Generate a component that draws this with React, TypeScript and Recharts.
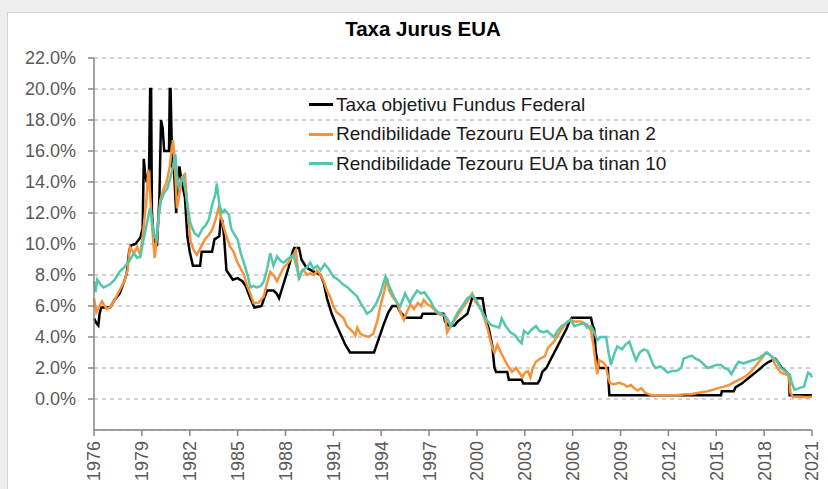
import React from 'react';
import { LineChart, Line, XAxis, YAxis, CartesianGrid, Legend } from 'recharts';

const FONT = '"Liberation Sans", Arial, sans-serif';

const chartTitle = 'Taxa Jurus EUA';
const seriesNames = [
  'Taxa objetivu Fundus Federal',
  'Rendibilidade Tezouru EUA ba tinan 2',
  'Rendibilidade Tezouru EUA ba tinan 10',
];
const seriesColors = ['#000000', '#f7913a', '#52c7ad'];

const yearTicks = [1976, 1979, 1982, 1985, 1988, 1991, 1994, 1997, 2000, 2003, 2006, 2009, 2012, 2015, 2018, 2021];
const rateTicks = [0, 2, 4, 6, 8, 10, 12, 14, 16, 18, 20, 22];

// Fed funds target
const fedYears = [
  1976.0, 1976.15, 1976.27, 1976.35, 1976.45, 1977.0, 1977.3, 1977.6, 1977.9, 1978.05,
  1978.2, 1978.3, 1978.6, 1978.9, 1979.05, 1979.12, 1979.2, 1979.3, 1979.45, 1979.52,
  1979.58, 1979.63, 1979.75, 1979.95, 1980.1, 1980.2, 1980.3, 1980.4, 1980.7, 1980.75,
  1980.8, 1980.9, 1981.0, 1981.15, 1981.25, 1981.35, 1981.5, 1981.7, 1981.85, 1982.0,
  1982.2, 1982.65, 1982.75, 1983.4, 1983.55, 1983.85, 1983.95, 1984.05, 1984.15, 1984.3,
  1984.5, 1984.7, 1985.0, 1985.3, 1985.5, 1985.8, 1986.05, 1986.5, 1986.7, 1986.85,
  1987.25, 1987.45, 1987.6, 1987.9, 1988.2, 1988.45, 1988.55, 1988.85, 1989.0, 1989.3,
  1989.7, 1990.2, 1990.4, 1990.6, 1990.9, 1991.1, 1991.45, 1991.75, 1992.05, 1993.55,
  1993.85, 1994.15, 1994.45, 1994.7, 1995.0, 1995.2, 1995.5, 1996.5, 1996.6, 1997.9,
  1998.0, 1998.2, 1998.6, 1998.8, 1999.1, 1999.4, 1999.55, 1999.7, 2000.35, 2000.5,
  2000.6, 2000.75, 2000.95, 2001.1, 2001.2, 2001.9, 2002.0, 2002.8, 2002.9, 2003.8,
  2003.95, 2004.1, 2004.35, 2004.6, 2004.85, 2005.1, 2005.35, 2005.6, 2005.8, 2005.95,
  2007.15, 2007.25, 2007.35, 2007.45, 2007.55, 2007.65, 2008.2, 2008.3, 2015.3, 2015.35,
  2016.1, 2016.2, 2016.6, 2016.9, 2017.2, 2017.5, 2017.8, 2018.0, 2018.3, 2018.7,
  2018.85, 2019.1, 2019.4, 2019.55, 2019.6, 2021.0,
];
const fedRates = [
  5.2, 4.9, 4.75, 5.5, 5.9, 5.9, 6.4, 6.8, 7.6, 8.1,
  9.5, 9.9, 10.0, 10.4, 11.0, 15.5, 14.6, 14.0, 14.8, 20.0,
  20.0, 12.0, 10.2, 10.0, 13.0, 18.0, 17.5, 16.0, 16.0, 20.0,
  20.0, 15.0, 15.0, 12.0, 14.0, 15.0, 14.0, 13.0, 10.5, 9.5,
  8.6, 8.6, 9.5, 9.5, 10.3, 10.5, 11.6, 11.5, 10.5, 8.3,
  8.0, 7.7, 7.8, 7.6, 7.3, 6.5, 5.9, 6.0, 6.6, 7.0,
  7.0, 6.8, 6.5, 7.5, 8.5, 9.5, 9.75, 9.75, 9.0, 8.5,
  8.25, 8.0, 7.5, 6.5, 5.5, 5.0, 4.2, 3.5, 3.0, 3.0,
  3.9, 4.8, 5.6, 6.0, 6.0, 5.6, 5.25, 5.25, 5.5, 5.5,
  5.0, 4.75, 4.75, 5.0, 5.25, 5.5, 6.0, 6.5, 6.5, 5.5,
  5.0, 4.5, 3.5, 2.0, 1.75, 1.75, 1.25, 1.25, 1.0, 1.0,
  1.25, 1.75, 2.0, 2.5, 3.0, 3.5, 4.0, 4.5, 5.0, 5.25,
  5.25, 4.75, 4.5, 3.0, 2.5, 2.0, 2.0, 0.25, 0.25, 0.5,
  0.5, 0.75, 1.0, 1.25, 1.5, 1.75, 2.0, 2.2, 2.4, 2.6,
  2.4, 2.0, 1.75, 1.6, 0.25, 0.25,
];

// 2-year Treasury yield
const twoYears = [
  1976.0, 1976.15, 1976.3, 1976.5, 1976.8, 1977.0, 1977.3, 1977.6, 1977.9, 1978.1,
  1978.25, 1978.5, 1978.7, 1978.9, 1979.05, 1979.15, 1979.3, 1979.4, 1979.5, 1979.65,
  1979.8, 1979.95, 1980.15, 1980.35, 1980.55, 1980.75, 1980.95, 1981.05, 1981.2, 1981.35,
  1981.5, 1981.7, 1981.85, 1982.05, 1982.25, 1982.45, 1982.7, 1982.95, 1983.2, 1983.4,
  1983.6, 1983.8, 1983.95, 1984.1, 1984.3, 1984.55, 1984.75, 1984.95, 1985.2, 1985.4,
  1985.6, 1985.8, 1986.0, 1986.3, 1986.63, 1986.85, 1987.05, 1987.25, 1987.47, 1987.7,
  1987.9, 1988.1, 1988.3, 1988.5, 1988.65, 1988.75, 1988.85, 1989.0, 1989.15, 1989.35,
  1989.55, 1989.8, 1989.98, 1990.2, 1990.4, 1990.6, 1990.8, 1991.0, 1991.2, 1991.45,
  1991.65, 1991.85, 1992.05, 1992.25, 1992.38, 1992.5, 1992.7, 1992.9, 1993.2, 1993.5,
  1993.75, 1993.95, 1994.2, 1994.37, 1994.5, 1994.7, 1995.0, 1995.2, 1995.42, 1995.6,
  1995.84, 1996.05, 1996.3, 1996.5, 1996.67, 1996.9, 1997.1, 1997.3, 1997.55, 1997.8,
  1998.0, 1998.13, 1998.3, 1998.55, 1998.8, 1999.05, 1999.4, 1999.7, 1999.9, 2000.3,
  2000.65, 2000.96, 2001.1, 2001.28, 2001.55, 2001.9, 2002.2, 2002.45, 2002.85, 2003.0,
  2003.2, 2003.35, 2003.5, 2003.7, 2003.95, 2004.25, 2004.45, 2004.83, 2005.25, 2005.67,
  2005.9, 2006.1, 2006.5, 2006.9, 2007.15, 2007.3, 2007.45, 2007.55, 2007.65, 2007.85,
  2008.05, 2008.25, 2008.35, 2008.6, 2008.9, 2009.2, 2009.4, 2009.65, 2009.85, 2010.06,
  2010.3, 2010.55, 2010.8, 2011.0, 2012.0, 2012.5, 2013.0, 2013.4, 2013.9, 2014.45,
  2014.8, 2015.1, 2015.5, 2015.8, 2016.15, 2016.55, 2016.9, 2017.2, 2017.6, 2017.9,
  2018.1, 2018.3, 2018.5, 2018.65, 2018.85, 2019.05, 2019.35, 2019.55, 2019.65, 2019.8,
  2020.3, 2020.7, 2021.0,
];
const twoRates = [
  6.5, 5.6, 5.9, 6.3, 5.8, 5.9, 6.4, 7.0, 7.6, 8.3,
  9.8, 9.4, 9.8, 9.3, 10.5, 11.5, 13.0, 14.8, 13.5, 11.0,
  9.1, 10.5, 12.8, 13.5, 14.0, 15.0, 16.7, 15.5, 12.3, 13.2,
  14.3, 14.5, 12.5, 10.2, 9.6, 9.3, 9.8, 10.3, 10.6, 10.9,
  11.5, 12.3, 11.8, 11.2, 10.5, 9.8, 9.5, 8.9, 8.4, 8.0,
  7.3, 6.8, 6.2, 6.2, 6.6, 7.5, 8.2, 8.0, 7.6, 8.1,
  8.5, 8.7, 9.0, 9.3, 9.6, 8.6, 7.7, 8.2, 8.3, 8.0,
  8.1, 8.0, 8.3, 8.0, 7.6, 7.0, 6.6, 6.0, 5.6, 5.4,
  5.2, 4.7, 4.5, 4.3, 4.1, 4.6, 4.2, 4.1, 4.0, 4.2,
  5.0, 6.0, 7.0, 7.8, 7.0, 6.6, 6.2, 5.6, 5.1, 5.6,
  6.1, 5.8, 6.2, 6.0, 6.4, 6.1, 6.0, 5.8, 5.5, 5.4,
  5.4, 4.3, 4.6, 5.0, 5.4, 5.8, 6.3, 6.8, 6.3, 5.7,
  4.6, 3.3, 3.0, 3.5, 2.9, 2.2, 1.75, 2.0, 1.4, 1.7,
  1.8, 1.4, 2.0, 2.4, 2.6, 2.75, 3.3, 3.7, 4.4, 5.0,
  5.1, 5.0, 5.0, 4.8, 4.4, 3.5, 2.2, 1.6, 2.5, 2.4,
  2.2, 1.3, 1.0, 0.95, 1.05, 0.95, 0.8, 0.9, 0.7, 0.55,
  0.7, 0.4, 0.3, 0.25, 0.25, 0.25, 0.3, 0.3, 0.4, 0.5,
  0.6, 0.7, 0.8, 0.9, 1.1, 1.3, 1.5, 1.8, 2.3, 2.7,
  3.0, 2.9, 2.7, 2.3, 2.0, 1.7, 1.6, 1.5, 0.4, 0.15,
  0.15, 0.12, 0.15,
];

// 10-year Treasury yield
const tenYears = [
  1976.0, 1976.1, 1976.2, 1976.4, 1976.6, 1976.8, 1977.0, 1977.3, 1977.6, 1977.9,
  1978.2, 1978.5, 1978.7, 1978.9, 1979.15, 1979.35, 1979.5, 1979.6, 1979.75, 1979.9,
  1980.05, 1980.2, 1980.4, 1980.6, 1980.77, 1980.95, 1981.1, 1981.2, 1981.3, 1981.45,
  1981.6, 1981.75, 1981.9, 1982.05, 1982.3, 1982.55, 1982.8, 1983.0, 1983.2, 1983.4,
  1983.6, 1983.7, 1983.85, 1984.0, 1984.2, 1984.45, 1984.6, 1984.8, 1985.0, 1985.2,
  1985.45, 1985.65, 1985.8, 1986.0, 1986.2, 1986.45, 1986.65, 1986.85, 1987.05, 1987.25,
  1987.47, 1987.7, 1987.9, 1988.1, 1988.5, 1988.75, 1988.85, 1989.05, 1989.35, 1989.55,
  1989.75, 1990.0, 1990.2, 1990.45, 1990.7, 1991.0, 1991.3, 1991.6, 1991.9, 1992.2,
  1992.5, 1992.75, 1992.9, 1993.1, 1993.4, 1993.7, 1993.95, 1994.15, 1994.27, 1994.45,
  1994.8, 1995.0, 1995.2, 1995.35, 1995.5, 1995.8, 1996.0, 1996.25, 1996.5, 1996.7,
  1996.9, 1997.1, 1997.3, 1997.55, 1997.75, 1997.95, 1998.15, 1998.35, 1998.55, 1998.8,
  1999.08, 1999.4, 1999.7, 1999.95, 2000.33, 2000.6, 2000.85, 2001.1, 2001.4, 2001.55,
  2001.8, 2002.1, 2002.4, 2002.6, 2002.8, 2002.95, 2003.2, 2003.45, 2003.7, 2003.9,
  2004.2, 2004.4, 2004.6, 2004.83, 2005.05, 2005.3, 2005.6, 2005.9, 2006.1, 2006.4,
  2006.7, 2006.9, 2007.15, 2007.35, 2007.55, 2007.75, 2008.1, 2008.25, 2008.4, 2008.6,
  2008.8, 2009.1, 2009.3, 2009.55, 2009.75, 2009.97, 2010.2, 2010.45, 2010.7, 2010.9,
  2011.05, 2011.2, 2011.5, 2011.75, 2011.95, 2012.2, 2012.5, 2012.8, 2012.95, 2013.2,
  2013.45, 2013.7, 2013.95, 2014.25, 2014.45, 2014.75, 2015.0, 2015.3, 2015.5, 2015.75,
  2015.95, 2016.2, 2016.4, 2016.7, 2017.0, 2017.3, 2017.6, 2017.9, 2018.2, 2018.4,
  2018.65, 2018.85, 2019.05, 2019.3, 2019.6, 2019.75, 2019.9, 2020.2, 2020.5, 2020.75,
  2020.9, 2021.0,
];
const tenRates = [
  7.6, 6.9, 7.7, 7.4, 7.2, 7.3, 7.4, 7.7, 8.2, 8.5,
  8.9, 9.4, 9.1, 9.2, 10.5, 11.5, 12.3, 11.8, 10.6, 10.3,
  11.8, 12.8, 13.3, 13.6, 14.2, 15.0, 15.8, 14.5, 13.7, 14.0,
  14.3, 13.3, 12.2, 11.3, 10.7, 10.5, 11.0, 11.2, 11.6, 12.5,
  13.2, 13.9, 12.6, 12.0, 12.2, 11.9, 11.0, 10.6, 10.3, 9.4,
  8.6, 7.9, 7.2, 7.3, 7.2, 7.3, 7.6, 8.4, 9.4, 8.6,
  9.2, 8.9, 8.8, 9.0, 9.3, 8.3, 7.8, 8.3, 8.5, 8.8,
  8.4, 8.6, 8.3, 8.7, 8.4, 7.9, 7.7, 7.4, 7.2, 6.9,
  6.6, 6.1, 5.9, 5.5, 5.7, 6.2, 6.8, 7.5, 7.9, 7.4,
  6.6, 6.2, 6.0, 6.4, 6.8, 6.2, 6.6, 7.0, 6.8, 6.9,
  6.6, 6.3, 5.9, 5.6, 5.5, 5.4, 5.2, 4.7, 5.1, 5.6,
  6.0, 6.5, 6.7, 6.4, 5.6, 5.1, 4.8, 4.7, 4.6, 5.2,
  4.7, 4.3, 4.1, 3.8, 3.6, 4.4, 4.2, 4.5, 4.7, 4.4,
  4.3, 4.4, 4.2, 4.0, 4.4, 4.7, 4.9, 5.1, 4.7, 4.8,
  4.9, 4.6, 4.7, 4.3, 3.8, 4.0, 4.0, 3.0, 2.2, 2.9,
  3.4, 3.2, 3.5, 3.7, 3.1, 2.5, 3.0, 3.2, 3.1, 2.6,
  2.2, 2.0, 2.1, 1.9, 1.7, 1.8, 1.8, 2.0, 2.6, 2.7,
  2.8, 2.6, 2.5, 2.2, 2.0, 2.1, 2.2, 2.2, 2.0, 1.9,
  1.6, 2.1, 2.4, 2.3, 2.4, 2.5, 2.6, 2.8, 3.0, 2.8,
  2.6, 2.4, 2.0, 1.8, 1.6, 1.0, 0.6, 0.7, 0.8, 1.7,
  1.6, 1.4,
];

const toPoints = (xs: number[], ys: number[]) => xs.map((year, i) => ({ year, value: ys[i] }));

const seriesData = [
  toPoints(fedYears, fedRates),
  toPoints(twoYears, twoRates),
  toPoints(tenYears, tenRates),
];

const YearTick = ({ x, y, payload }: any) => (
  <text
    x={x}
    y={y}
    dy="0.36em"
    transform={`rotate(-90, ${x}, ${y})`}
    textAnchor="end"
    fill="#595959"
    fontSize={18}
    fontFamily={FONT}
  >
    {payload.value}
  </text>
);

const LegendList = ({ payload }: any) => {
  const items = [...(payload || [])].sort(
    (a: any, b: any) => seriesNames.indexOf(a.value) - seriesNames.indexOf(b.value)
  );
  return (
    <ul style={{ listStyle: 'none', margin: 0, padding: 0, fontFamily: FONT }}>
      {items.map((entry: any) => (
        <li
          key={entry.value}
          style={{ display: 'flex', alignItems: 'center', height: 29.5, fontSize: 19, color: '#1a1a1a', whiteSpace: 'nowrap' }}
        >
          <span style={{ display: 'inline-block', width: 24, height: 3, background: entry.color, marginRight: 3 }} />
          {entry.value}
        </li>
      ))}
    </ul>
  );
};

export default function App() {
  return (
    <div style={{ position: 'absolute', left: 0, top: 0, width: 828, height: 489, background: '#efefef', overflow: 'hidden' }}>
      <div
        style={{
          position: 'absolute', left: 7, top: 12, width: 840, height: 500,
          background: '#ffffff', borderLeft: '1px solid #d4d4d4', borderTop: '1px solid #d4d4d4',
        }}
      />
      <div
        style={{
          position: 'absolute', left: 0, top: 17, width: 846, textAlign: 'center',
          fontFamily: FONT, fontWeight: 'bold', fontSize: 20.5, color: '#000', lineHeight: '24px',
        }}
      >
        {chartTitle}
      </div>
      <div style={{ position: 'absolute', left: 0, top: 0 }}>
        <LineChart width={828} height={489} margin={{ top: 58, right: 16, bottom: 9, left: 0 }}>
          <CartesianGrid vertical={false} stroke="#a6a6a6" strokeDasharray="4 4" />
          <XAxis
            type="number"
            dataKey="year"
            domain={[1976, 2021]}
            ticks={yearTicks}
            interval={0}
            height={50}
            tickSize={6}
            tickMargin={5}
            tick={<YearTick />}
            axisLine={{ stroke: '#868686', strokeWidth: 1.5 }}
            tickLine={{ stroke: '#868686', strokeWidth: 1.5 }}
          />
          <YAxis
            type="number"
            domain={[-2, 22]}
            ticks={rateTicks}
            interval={0}
            width={94}
            tickSize={6}
            tickMargin={12}
            tickFormatter={(v: number) => `${v.toFixed(1)}%`}
            tick={{ fill: '#595959', fontSize: 18, fontFamily: FONT }}
            axisLine={{ stroke: '#868686', strokeWidth: 1.5 }}
            tickLine={{ stroke: '#868686', strokeWidth: 1.5 }}
          />
          {seriesData.map((points, i) => (
            <Line
              key={seriesNames[i]}
              data={points}
              dataKey="value"
              name={seriesNames[i]}
              type="linear"
              stroke={seriesColors[i]}
              strokeWidth={2.5}
              dot={false}
              activeDot={false}
              isAnimationActive={false}
            />
          ))}
          <Legend
            layout="vertical"
            align="center"
            verticalAlign="middle"
            content={<LegendList />}
            wrapperStyle={{ left: 309, top: 90, width: 420 }}
          />
        </LineChart>
      </div>
    </div>
  );
}
